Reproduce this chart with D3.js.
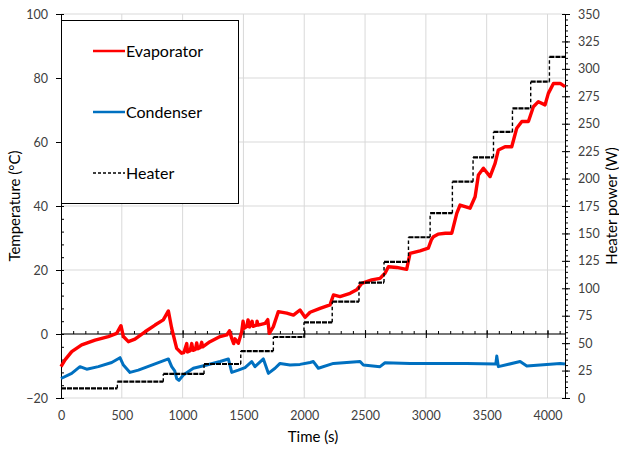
<!DOCTYPE html>
<html lang="en">

<head>
    <meta charset="UTF-8">
    <script src="https://d3js.org/d3.v7.min.js"></script>
    <title>heat pipe test</title>
    <style>
        body { margin: 0; background: #fff; }
        text { font-family: Lato, "Open Sans", sans-serif; }
    </style>
</head>

<body>
    <script>
        // evaporator temperature (°C) vs time (s)
        var evapTime = [0, 33, 88, 170, 280, 389, 458, 493, 513, 554, 608, 691, 773, 841, 883, 910, 951, 992,
            1010, 1034, 1040, 1062, 1075, 1085, 1105, 1116, 1125, 1145, 1157, 1165, 1225, 1308, 1363, 1385, 1404, 1420, 1430, 1458,
            1486, 1497, 1505, 1527, 1538, 1550, 1571, 1580, 1609, 1612, 1620, 1678, 1700, 1713, 1746, 1787, 1856, 1911, 1965,
            2007, 2048, 2130, 2212, 2240, 2294, 2377, 2431, 2473, 2555, 2623, 2664, 2692, 2760, 2842, 2870, 2952, 3020,
            3045, 3062, 3100, 3160, 3213, 3254, 3281, 3363, 3405, 3432, 3473, 3528, 3569, 3596, 3651, 3706, 3747, 3789,
            3843, 3884, 3925, 3980, 4007, 4049, 4104, 4144];
        var evapTemp = [-10.2, -8.1, -5.5, -3.4, -1.9, -0.8, 0.2, 2.6, -0.8, -2.4, -1.6, 0.7, 2.8, 4.4, 7.2, 1.8, -4.5, -6.0,
            -5.8, -3.0, -5.6, -5.2, -3.0, -5.1, -4.8, -2.8, -4.6, -4.2, -2.6, -4.0, -2.4, -0.8, -0.3, 1.0, -1.4, -3.0, -1.5, -2.9,
            0.7, 4.0, 1.8, 2.3, 4.4, 2.2, 4.0, 2.4, 2.8, 4.0, 2.8, 3.3, 4.5, 0.2, 2.3, 7.0, 6.5, 5.9, 7.5,
            5.2, 6.8, 8.0, 9.1, 12.2, 11.7, 12.7, 13.8, 15.8, 16.9, 17.4, 19.0, 21.0, 20.8, 20.2, 25.2, 26.0, 26.8,
            29.4, 30.4, 31.2, 31.5, 31.5, 37.7, 40.3, 39.3, 42.9, 49.7, 51.8, 49.2, 53.3, 57.5, 58.5, 58.5, 64.3, 66.4,
            66.4, 71.0, 72.6, 71.6, 75.2, 78.3, 78.3, 77.3];

        // condenser temperature (°C) vs time (s)
        var condTime = [0, 88, 156, 211, 307, 417, 485, 513, 567, 636, 746, 883, 910, 935, 951, 970, 1006, 1088, 1198,
            1308, 1376, 1404, 1458, 1513, 1568, 1595, 1664, 1705, 1760, 1801, 1883, 1965, 2048, 2075, 2116, 2240, 2459,
            2486, 2623, 2664, 2870, 3336, 3575, 3583, 3596, 3775, 3830, 4104, 4144];
        var condTemp = [-13.9, -12.3, -10.2, -11.0, -10.2, -8.9, -7.4, -9.7, -12.0, -11.3, -9.7, -7.8, -10.2, -11.5, -13.9,
            -14.5, -12.8, -10.7, -9.7, -8.6, -7.8, -12.0, -11.3, -10.5, -8.6, -10.2, -7.8, -12.3, -10.7, -9.2, -9.7, -9.5,
            -8.9, -8.6, -10.7, -9.2, -8.6, -9.7, -10.2, -9.0, -9.2, -9.2, -9.4, -6.9, -10.2, -8.6, -10.0, -9.2, -9.4];

        // heater power steps (W), each starting at heaterTime[i]
        var heaterTime = [0, 463, 841, 1176, 1478, 1746, 1998, 2230, 2450, 2656, 2857, 3035, 3218, 3388, 3556, 3712, 3862, 4016, 4144];
        var heaterPower = [8.8, 14.9, 21.9, 31, 42.8, 55.6, 69, 87.8, 105.2, 124, 146.5, 168.5, 197.2, 219.4, 242.5, 264, 288.3, 311, 308];

        // ticks
        var timeTicks = [0, 500, 1000, 1500, 2000, 2500, 3000, 3500, 4000];
        var tempTicks = [-20, 0, 20, 40, 60, 80, 100];
        var powerTicks = [0, 25, 50, 75, 100, 125, 150, 175, 200, 225, 250, 275, 300, 325, 350];

        var w = 619,
            h = 449;
        var pLeft = 61,
            pRight = 565,
            pTop = 14,
            pBottom = 398;

        var svg = d3.select("body").append("svg")
            .attr("width", w)
            .attr("height", h);

        svg.append("rect").attr("width", w).attr("height", h).attr("fill", "#fff");

        var x = d3.scaleLinear().domain([0, 4144]).range([pLeft, pRight]);
        var yT = d3.scaleLinear().domain([-20, 100]).range([pBottom, pTop]);
        var yP = d3.scaleLinear().domain([0, 350]).range([pBottom, pTop]);

        //格線
        svg.append("g").selectAll("line").data(tempTicks).enter().append("line")
            .attr("x1", pLeft).attr("x2", pRight)
            .attr("y1", function(d) { return yT(d); })
            .attr("y2", function(d) { return yT(d); })
            .attr("stroke", "#d9d9d9");
        svg.append("g").selectAll("line").data(timeTicks.slice(1)).enter().append("line")
            .attr("x1", function(d) { return x(d); })
            .attr("x2", function(d) { return x(d); })
            .attr("y1", pTop).attr("y2", pBottom)
            .attr("stroke", "#d9d9d9");

        // left axis
        var minorT = d3.range(-20, 101, 4);
        svg.append("g").attr("transform", "translate(" + pLeft + ",0)")
            .call(d3.axisLeft(yT).tickValues(minorT).tickSize(-3).tickFormat(""))
            .call(function(g) { g.select(".domain").remove(); });
        var axL = svg.append("g").attr("transform", "translate(" + pLeft + ",0)")
            .call(d3.axisLeft(yT).tickValues(tempTicks).tickSize(5).tickPadding(8).tickSizeOuter(0));
        axL.selectAll("text").attr("font-size", 12.5).attr("fill", "#404040");

        // right axis
        var minorP = d3.range(0, 351, 5);
        svg.append("g").attr("transform", "translate(" + pRight + ",0)")
            .call(d3.axisRight(yP).tickValues(minorP).tickSize(3).tickFormat(""))
            .call(function(g) { g.select(".domain").remove(); });
        var axR = svg.append("g").attr("transform", "translate(" + pRight + ",0)")
            .call(d3.axisRight(yP).tickValues(powerTicks).tickSize(5).tickPadding(8).tickSizeOuter(0));
        axR.selectAll(".tick line").attr("x1", -3);
        axR.selectAll("text").attr("font-size", 12.5).attr("fill", "#404040");

        // time axis crossing at 0 °C
        var minorX = d3.range(0, 4144, 100);
        svg.append("g").attr("transform", "translate(0," + yT(0) + ")")
            .call(d3.axisTop(x).tickValues(minorX).tickSize(3).tickFormat(""))
            .call(function(g) { g.select(".domain").remove(); });
        var axX = svg.append("g").attr("transform", "translate(0," + yT(0) + ")")
            .call(d3.axisBottom(x).tickValues(timeTicks).tickSize(4).tickFormat("").tickSizeOuter(0));
        axX.selectAll(".tick line").attr("y1", -4);
        axX.select(".domain").attr("d", "M" + pLeft + ",0H" + pRight);

        // time labels at the bottom
        var axXl = svg.append("g").attr("transform", "translate(0," + pBottom + ")")
            .call(d3.axisBottom(x).tickValues(timeTicks).tickSize(0).tickPadding(13).tickFormat(d3.format("d")));
        axXl.select(".domain").remove();
        axXl.selectAll("text").attr("font-size", 12.5).attr("fill", "#404040");

        svg.selectAll(".tick line, .domain").attr("stroke", "#000");

        // lines
        var evapData = evapTime.map(function(t, i) { return [t, evapTemp[i]]; });
        var condData = condTime.map(function(t, i) { return [t, condTemp[i]]; });

        var lineT = d3.line()
            .x(function(d) { return x(d[0]); })
            .y(function(d) { return yT(d[1]); });

        svg.append("path").attr("d", lineT(evapData))
            .attr("fill", "none").attr("stroke", "#ff0000").attr("stroke-width", 3.4)
            .attr("stroke-linejoin", "round");
        svg.append("path").attr("d", lineT(condData))
            .attr("fill", "none").attr("stroke", "#0070c0").attr("stroke-width", 3)
            .attr("stroke-linejoin", "round");

        // heater: flat parts heavy, risers thin dashed
        var flats = d3.range(heaterTime.length - 1).map(function(i) {
            return [[heaterTime[i], heaterPower[i]], [heaterTime[i + 1], heaterPower[i]]];
        });
        var risers = d3.range(1, heaterTime.length - 1).map(function(i) {
            return [[heaterTime[i], heaterPower[i - 1]], [heaterTime[i], heaterPower[i]]];
        });
        var lineP = d3.line()
            .x(function(d) { return x(d[0]); })
            .y(function(d) { return yP(d[1]); });
        svg.append("g").selectAll("path").data(flats).enter().append("path")
            .attr("d", lineP)
            .attr("fill", "none").attr("stroke", "#000").attr("stroke-width", 2.2)
            .attr("stroke-dasharray", "5,1");
        svg.append("g").selectAll("path").data(risers).enter().append("path")
            .attr("d", lineP)
            .attr("fill", "none").attr("stroke", "#000").attr("stroke-width", 1.4)
            .attr("stroke-dasharray", "3.5,2.5");

        // legend
        var lg = svg.append("g");
        lg.append("rect").attr("x", 61.5).attr("y", 20.5).attr("width", 177).attr("height", 183)
            .attr("fill", "#fff").attr("stroke", "#000");
        var legItems = [
            { name: "Evaporator", color: "#ff0000", dash: null, y: 51 },
            { name: "Condenser", color: "#0070c0", dash: null, y: 112 },
            { name: "Heater", color: "#000", dash: "3,2", y: 173 }
        ];
        legItems.forEach(function(d) {
            lg.append("line").attr("x1", 93).attr("x2", 125).attr("y1", d.y).attr("y2", d.y)
                .attr("stroke", d.color).attr("stroke-width", d.dash ? 1.5 : 2.5)
                .attr("stroke-dasharray", d.dash);
            lg.append("text").attr("x", 126).attr("y", d.y).attr("dy", "0.35em")
                .attr("font-size", 16).attr("fill", "#000").text(d.name);
        });

        // axis titles
        svg.append("text").attr("x", (pLeft + pRight) / 2).attr("y", 437).attr("dy", "0.35em")
            .attr("text-anchor", "middle").attr("font-size", 15).text("Time (s)");
        svg.append("text").attr("transform", "translate(15," + (pTop + pBottom) / 2 + ") rotate(-90)")
            .attr("dy", "0.35em").attr("text-anchor", "middle").attr("font-size", 15).text("Temperature (°C)");
        svg.append("text").attr("transform", "translate(612," + (pTop + pBottom) / 2 + ") rotate(-90)")
            .attr("dy", "0.35em").attr("text-anchor", "middle").attr("font-size", 15).text("Heater power (W)");
    </script>
</body>

</html>
